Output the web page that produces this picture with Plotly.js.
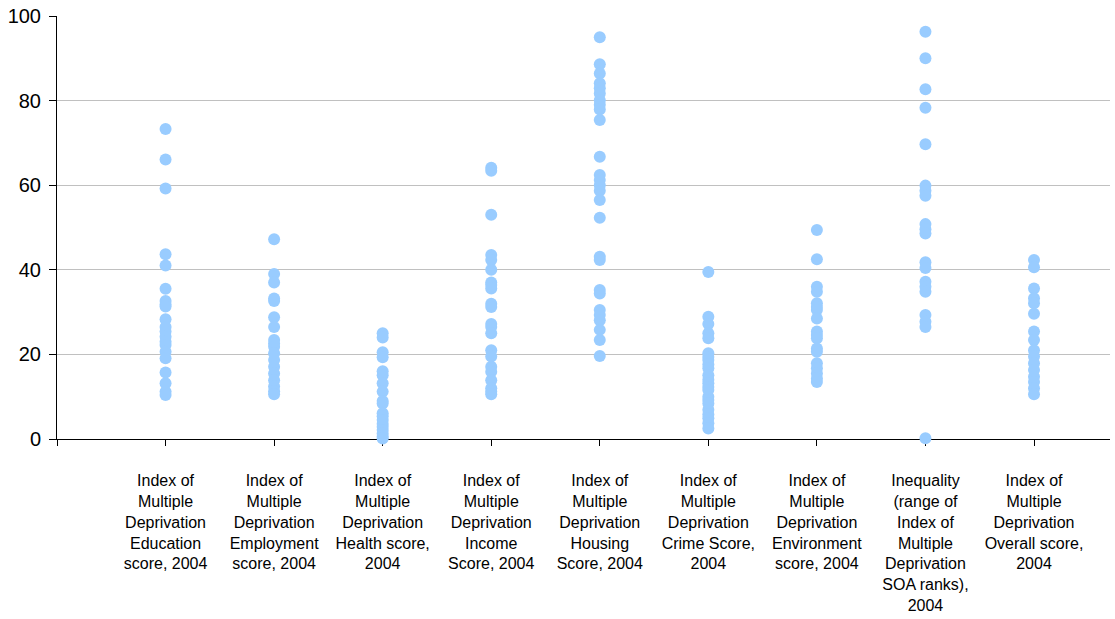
<!DOCTYPE html>
<html>
<head>
<meta charset="utf-8">
<script src="https://cdn.plot.ly/plotly-3.0.1.min.js"></script>
<style>html,body{margin:0;padding:0;background:#fff;}#chart{width:1115px;height:619px;}</style>
</head>
<body>
<div id="chart"></div>
<script>
// Category labels (x axis)
const categories = [
  "Index of<br>Multiple<br>Deprivation<br>Education<br>score, 2004",
  "Index of<br>Multiple<br>Deprivation<br>Employment<br>score, 2004",
  "Index of<br>Multiple<br>Deprivation<br>Health score,<br>2004",
  "Index of<br>Multiple<br>Deprivation<br>Income<br>Score, 2004",
  "Index of<br>Multiple<br>Deprivation<br>Housing<br>Score, 2004",
  "Index of<br>Multiple<br>Deprivation<br>Crime Score,<br>2004",
  "Index of<br>Multiple<br>Deprivation<br>Environment<br>score, 2004",
  "Inequality<br>(range of<br>Index of<br>Multiple<br>Deprivation<br>SOA ranks),<br>2004",
  "Index of<br>Multiple<br>Deprivation<br>Overall score,<br>2004"
];

// Values per category
const education = [73.3, 66.1, 59.2, 43.7, 41.0, 35.5, 32.6, 31.8, 31.3, 28.3, 26.5, 25.4, 24.2, 23.0, 22.2, 20.6, 19.1, 15.7, 13.2, 11.2, 10.4];
const employment = [47.2, 39.0, 37.0, 33.2, 32.6, 28.8, 26.5, 23.4, 22.6, 21.8, 20.3, 18.7, 17.1, 15.5, 13.9, 12.4, 11.3, 10.6];
const health = [25.0, 24.0, 20.5, 19.3, 16.0, 15.1, 13.2, 11.2, 9.0, 8.4, 6.1, 5.4, 4.5, 3.6, 2.9, 2.1, 1.3, 0.6, 0.1];
const income = [64.1, 63.4, 53.0, 43.5, 42.3, 40.0, 37.0, 36.4, 35.6, 32.0, 31.2, 27.2, 26.5, 25.0, 21.0, 19.5, 17.1, 15.9, 13.9, 12.0, 11.2, 10.6];
const housing = [95.0, 88.6, 86.4, 84.1, 82.9, 81.7, 80.1, 79.0, 77.9, 75.4, 66.7, 62.4, 61.2, 60.0, 58.7, 56.5, 52.3, 43.1, 42.3, 35.2, 34.4, 30.5, 29.3, 28.1, 25.8, 23.4, 19.6];
const crime = [39.5, 28.9, 27.2, 25.0, 23.8, 20.3, 19.4, 18.7, 17.6, 16.7, 15.1, 14.0, 13.2, 12.3, 11.6, 10.0, 9.2, 8.4, 6.9, 5.8, 4.9, 3.7, 2.5];
const environment = [49.4, 42.5, 36.0, 34.8, 32.1, 31.2, 30.5, 28.5, 25.4, 24.6, 23.8, 21.4, 20.6, 17.9, 16.7, 15.5, 14.3, 13.5];
const inequality = [96.3, 90.0, 82.7, 78.3, 69.7, 59.9, 58.7, 57.5, 50.8, 49.6, 48.6, 41.8, 40.4, 37.2, 36.0, 34.8, 29.3, 27.7, 26.5, 0.2];
const overall = [42.3, 40.6, 35.6, 33.3, 32.1, 29.6, 25.4, 23.4, 21.0, 19.5, 17.9, 16.3, 14.7, 13.5, 12.0, 10.6];

const series = [education, employment, health, income, housing, crime, environment, inequality, overall];

const traces = series.map((vals, i) => ({
  type: 'scatter',
  mode: 'markers',
  x: vals.map(() => i + 1),
  y: vals,
  cliponaxis: false,
  hoverinfo: 'y',
  marker: {color: '#99CCFF', size: 12, line: {width: 0}},
  showlegend: false
}));

const tickvals = [0].concat(categories.map((c, i) => i + 1));
const ticktext = [''].concat(categories);

const layout = {
  width: 1115,
  height: 619,
  margin: {l: 57, r: 5, t: 16, b: 180},
  paper_bgcolor: '#ffffff',
  plot_bgcolor: '#ffffff',
  font: {family: 'Liberation Sans, Arial, sans-serif', color: '#000000'},
  showlegend: false,
  xaxis: {
    range: [0, 9.7],
    tickmode: 'array',
    tickvals: tickvals,
    ticktext: ticktext,
    showgrid: false,
    zeroline: false,
    showline: true,
    linecolor: '#000000',
    linewidth: 1,
    ticks: 'outside',
    ticklen: 6,
    tickcolor: '#000000',
    tickangle: 0,
    ticklabelstandoff: 21,
    tickfont: {size: 16, family: 'Liberation Sans, Arial, sans-serif', color: '#000000'},
    layer: 'below traces',
    fixedrange: true
  },
  yaxis: {
    range: [0, 100],
    tickvals: [0, 20, 40, 60, 80, 100],
    showgrid: true,
    gridcolor: '#C0C0C0',
    gridwidth: 1.3,
    zeroline: false,
    showline: true,
    linecolor: '#000000',
    linewidth: 1,
    ticks: 'outside',
    ticklen: 7,
    tickcolor: '#000000',
    ticklabelstandoff: 4,
    tickfont: {size: 20, family: 'Liberation Sans, Arial, sans-serif', color: '#000000'},
    layer: 'below traces',
    fixedrange: true
  }
};

Plotly.newPlot('chart', traces, layout, {displayModeBar: false, staticPlot: true});
</script>
</body>
</html>
